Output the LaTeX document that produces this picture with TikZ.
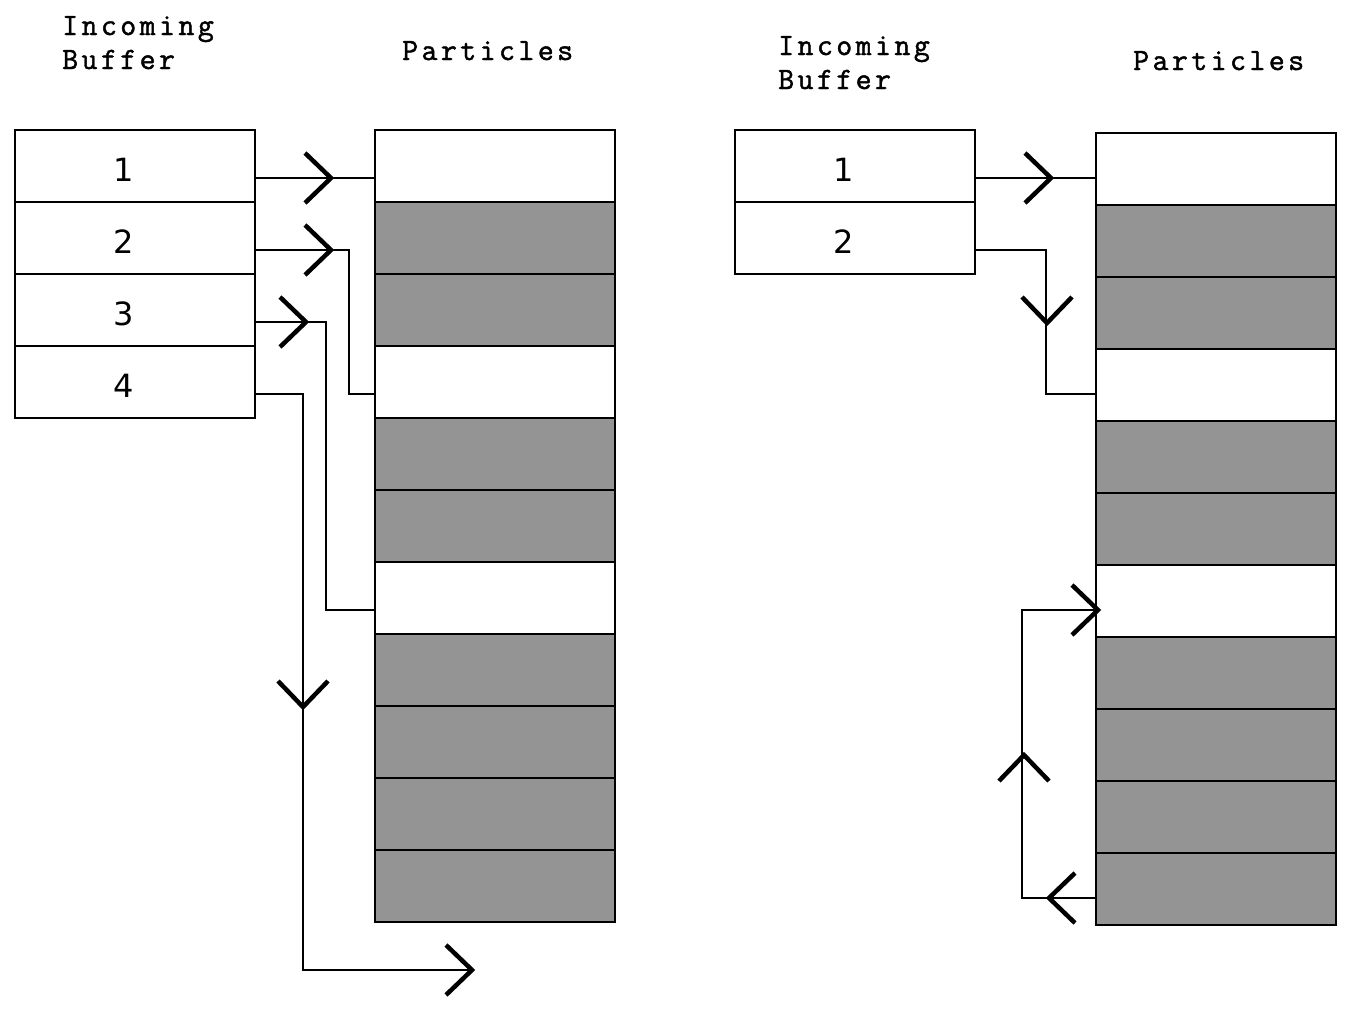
\documentclass[tikz,border=0pt]{standalone}
\usepackage{fontspec}
\setmainfont{DejaVu Sans}
\newfontfamily\headfont[LetterSpace=11,FakeBold=1.5]{Latin Modern Mono}
\usetikzlibrary{calc}
\definecolor{slotgray}{RGB}{148,148,148}
% slot numbers sit a little left of and below the cell centre
\newcommand\slotnum[1]{\raisebox{-4pt}[\height][\depth]{#1}\kern22pt}

\begin{document}
\begin{tikzpicture}[x=1pt,y=-1pt,
  cell/.style={draw, line width=2pt, minimum width=240pt, minimum height=72pt,
    inner sep=0pt, font=\fontsize{32}{36}\selectfont},
  used/.style={cell, fill=slotgray},
  free/.style={cell, fill=white},
  wire/.style={line width=2pt},
  head/.style={anchor=base west, inner sep=0pt, font=\headfont\fontsize{31}{34}\selectfont},
  chev/.pic={\draw[line width=4.5pt] (-26,-25) -- (0,0) -- (-26,25);}
]
\useasboundingbox (0,0) rectangle (1345,1009);

% ---------- left: four incoming entries ----------
\node[head] (lin) at (62,35) {Incoming};
\node[head] (lbu) at (62,69) {Buffer};
\node[head] (lpa) at (402,60) {Particles};

\foreach \i in {1,...,4}
  \node[free] (b\i) at (134.5,{166+72*(\i-1)}) {\slotnum{\i}};

\foreach \i/\s in {1/free,2/used,3/used,4/free,5/used,6/used,7/free,8/used,9/used,10/used,11/used}
  \node[\s] (p\i) at (495,{166+72*(\i-1)}) {};

\foreach \i in {1,...,4} \coordinate (b\i o) at ($(b\i.east)+(0,12)$);
\foreach \i in {1,4,7} \coordinate (p\i i) at ($(p\i.west)+(0,12)$);
\coordinate (lout) at (472,970);

\draw[wire] (b1o) -- (p1i);
\draw[wire] (b2o) -| ([xshift=-25pt]p4i) -- (p4i);
\draw[wire] (b3o) -| ([xshift=-48pt]p7i) -- (p7i);
\draw[wire] (b4o) -| ([xshift=-169pt]lout) -- (lout);

\pic at (331,178) {chev};
\pic at (331,250) {chev};
\pic at (306,322) {chev};
\pic[rotate=-90] at (303,707) {chev};
\pic at (lout) {chev};

% ---------- right: two incoming entries ----------
\node[head] (rin) at (778,55) {Incoming};
\node[head] (rbu) at (778,89) {Buffer};
\node[head] (rpa) at (1133,70) {Particles};

\foreach \i in {1,2}
  \node[free] (rb\i) at (855,{166+72*(\i-1)}) {\slotnum{\i}};

\foreach \i/\s in {1/free,2/used,3/used,4/free,5/used,6/used,7/free,8/used,9/used,10/used,11/used}
  \node[\s] (rp\i) at (1216,{169+72*(\i-1)}) {};

\foreach \i in {1,2} \coordinate (rb\i o) at ($(rb\i.east)+(0,12)$);
\foreach \i in {4,7,11} \coordinate (rp\i i) at ($(rp\i.west)+(0,9)$);

\draw[wire] (rb1o) -- (rb1o -| rp1.west);
\draw[wire] (rb2o) -| ([xshift=-49pt]rp4i) -- (rp4i);
\draw[wire] (rp11i) -- ++(-73,0) |- (rp7i);

\pic at (1051,178) {chev};
\pic[rotate=-90] at (1047,323) {chev};
\pic[rotate=180] at (1049,898) {chev};
\pic[rotate=90] at (1024,755) {chev};
\pic at (1098,610) {chev};
\end{tikzpicture}
\end{document}
